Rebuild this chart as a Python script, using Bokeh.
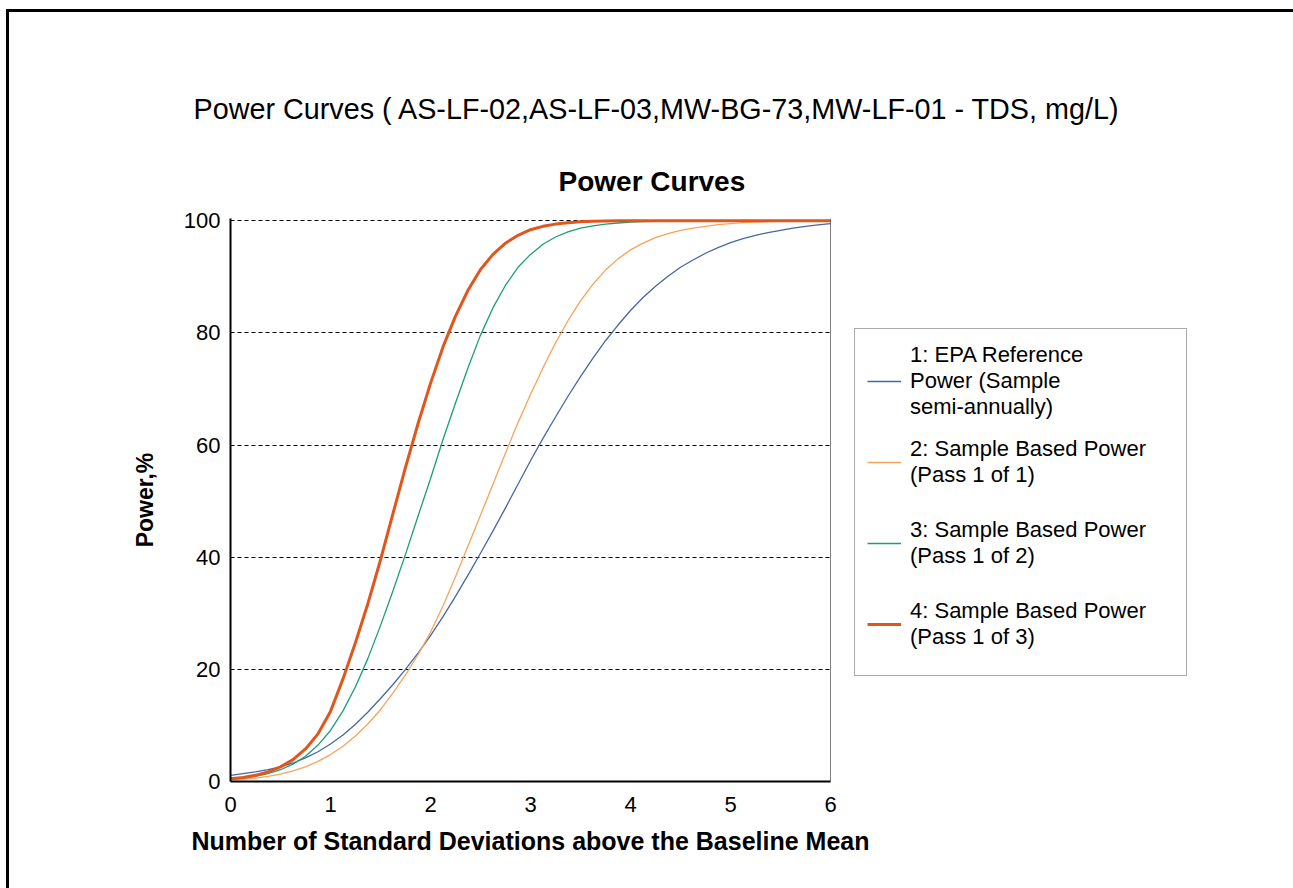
from bokeh.plotting import figure
from bokeh.models import Range1d, Legend, LegendItem, Span, Title
from bokeh.embed import file_html
from bokeh.resources import INLINE

# ---- data (every 0.125 SD) ----
x_sd = [0.0, 0.125, 0.25, 0.375, 0.5, 0.625, 0.75, 0.875, 1.0, 1.125, 1.25, 1.375,
        1.5, 1.625, 1.75, 1.875, 2.0, 2.125, 2.25, 2.375, 2.5, 2.625, 2.75, 2.875,
        3.0, 3.125, 3.25, 3.375, 3.5, 3.625, 3.75, 3.875, 4.0, 4.125, 4.25, 4.375,
        4.5, 4.625, 4.75, 4.875, 5.0, 5.125, 5.25, 5.375, 5.5, 5.625, 5.75, 5.875, 6.0]
power_epa = [1.1, 1.4, 1.7, 2.1, 2.6, 3.3, 4.2, 5.3, 6.7, 8.3, 10.2, 12.4,
             14.8, 17.3, 20.0, 22.9, 26.0, 29.4, 33.0, 36.8, 40.7, 44.7, 48.8, 53.0,
             57.2, 61.2, 65.0, 68.7, 72.2, 75.5, 78.6, 81.4, 84.0, 86.3, 88.3, 90.1,
             91.7, 93.0, 94.2, 95.2, 96.1, 96.8, 97.4, 97.9, 98.3, 98.7, 99.0, 99.25, 99.5]
power_pass_1of1 = [0.3, 0.4, 0.6, 0.9, 1.3, 1.9, 2.6, 3.6, 4.8, 6.3, 8.1, 10.3,
                   12.8, 15.8, 19.0, 22.6, 26.6, 31.3, 36.5, 42.0, 47.5, 53.0, 58.6, 64.0,
                   69.0, 73.8, 78.2, 82.2, 85.7, 88.7, 91.2, 93.2, 94.8, 96.0, 97.0, 97.7,
                   98.3, 98.7, 99.0, 99.3, 99.5, 99.65, 99.75, 99.85, 99.9, 99.93, 99.96, 99.98, 100.0]
power_pass_1of2 = [0.4, 0.6, 0.9, 1.4, 2.1, 3.1, 4.5, 6.5, 9.1, 12.6, 16.9, 22.0,
                   27.8, 34.0, 40.5, 47.3, 54.0, 61.0, 67.5, 73.8, 79.6, 84.5, 88.5, 91.7,
                   94.0, 95.8, 97.1, 98.0, 98.7, 99.1, 99.4, 99.6, 99.75, 99.85, 99.9, 99.95,
                   100.0, 100.0, 100.0, 100.0, 100.0, 100.0, 100.0, 100.0, 100.0, 100.0, 100.0, 100.0, 100.0]
power_pass_1of3 = [0.5, 0.7, 1.1, 1.7, 2.6, 3.9, 5.8, 8.5, 12.5, 18.3, 24.8, 31.8,
                   39.5, 47.8, 56.0, 63.8, 71.0, 77.5, 83.0, 87.6, 91.3, 94.0, 96.0, 97.4,
                   98.4, 99.0, 99.4, 99.65, 99.8, 99.9, 99.95, 100.0, 100.0, 100.0, 100.0, 100.0,
                   100.0, 100.0, 100.0, 100.0, 100.0, 100.0, 100.0, 100.0, 100.0, 100.0, 100.0, 100.0, 100.0]
series_labels = ["1: EPA Reference\nPower (Sample\nsemi-annually)",
                 "2: Sample Based Power\n(Pass 1 of 1)",
                 "3: Sample Based Power\n(Pass 1 of 2)",
                 "4: Sample Based Power\n(Pass 1 of 3)"]
x_ticks = [0, 1, 2, 3, 4, 5, 6]
y_ticks = [0, 20, 40, 60, 80, 100]
main_title = "Power Curves ( AS-LF-02,AS-LF-03,MW-BG-73,MW-LF-01 - TDS, mg/L)"
chart_title = "Power Curves"
x_label = "Number of Standard Deviations above the Baseline Mean"
y_label = "Power,%"

FONT = "Liberation Sans"

p = figure(frame_width=600, frame_height=563, output_backend="svg", toolbar_location=None,
           x_range=Range1d(0, 6), y_range=Range1d(0, 100.4),
           min_border_left=221, min_border_right=0,
           min_border_top=206, min_border_bottom=107,
           title=main_title)
p.styles = {"margin-left": "6px", "margin-top": "9px",
            "border-left": "3px solid black", "border-top": "3px solid black"}
p.outline_line_color = None
p.background_fill_color = "white"
p.border_fill_color = "white"

# titles (p.title is the outer one, the added Title sits next to the plot)
p.title.text_font = FONT
p.title.text_font_size = "28.75px"
p.title.text_font_style = "normal"
p.title.text_color = "black"
p.title.align = "left"
p.title.offset = -37
p.title.standoff = 36
p.add_layout(Title(text=chart_title, text_font=FONT, text_font_size="28px",
                   text_font_style="bold", text_color="black",
                   align="left", offset=328, standoff=43), "above")

# axes
for ax in (p.xaxis, p.yaxis):
    ax.axis_line_color = "black"
    ax.axis_line_width = 2
    ax.major_tick_line_color = None
    ax.minor_tick_line_color = None
    ax.major_label_text_font = FONT
    ax.major_label_text_font_size = "22px"
    ax.major_label_text_color = "black"
    ax.axis_label_text_font = FONT
    ax.axis_label_text_font_style = "bold"
    ax.axis_label_text_color = "black"
p.xaxis.ticker = x_ticks
p.yaxis.ticker = y_ticks
p.xaxis.major_label_standoff = 9
p.yaxis.major_label_standoff = 4
p.xaxis.axis_label = x_label
p.yaxis.axis_label = y_label
p.xaxis.axis_label_text_font_size = "25px"
p.yaxis.axis_label_text_font_size = "23px"
p.xaxis.axis_label_standoff = 12
p.yaxis.axis_label_standoff = 23

p.xgrid.grid_line_color = None
p.ygrid.ticker = y_ticks
p.ygrid.grid_line_color = "black"
p.ygrid.grid_line_dash = "4 3"
p.ygrid.grid_line_width = 1

p.add_layout(Span(location=6, dimension="height", line_color="black", line_width=1))

colors = ["#46689f", "#f7a35c", "#1b9e77", "#e2561e"]
widths = [1.3, 1.3, 1.3, 3]
series = [power_epa, power_pass_1of1, power_pass_1of2, power_pass_1of3]
renderers = []
for ys, c, w in zip(series, colors, widths):
    renderers.append(p.line(x_sd, ys, line_color=c, line_width=w, line_join="round"))

legend = Legend(items=[LegendItem(label=lab, renderers=[r]) for lab, r in zip(series_labels, renderers)],
                location=(24, 105), orientation="vertical",
                label_text_font=FONT, label_text_font_size="22px", label_text_color="black",
                label_text_line_height=1.2,
                glyph_width=34, label_standoff=9, label_width=264, label_height=79,
                padding=12, spacing=2, margin=0,
                border_line_color="#555555", border_line_width=1,
                background_fill_color="white", background_fill_alpha=1)
p.add_layout(legend, "right")

open("out.html", "w").write(file_html(p, INLINE))
